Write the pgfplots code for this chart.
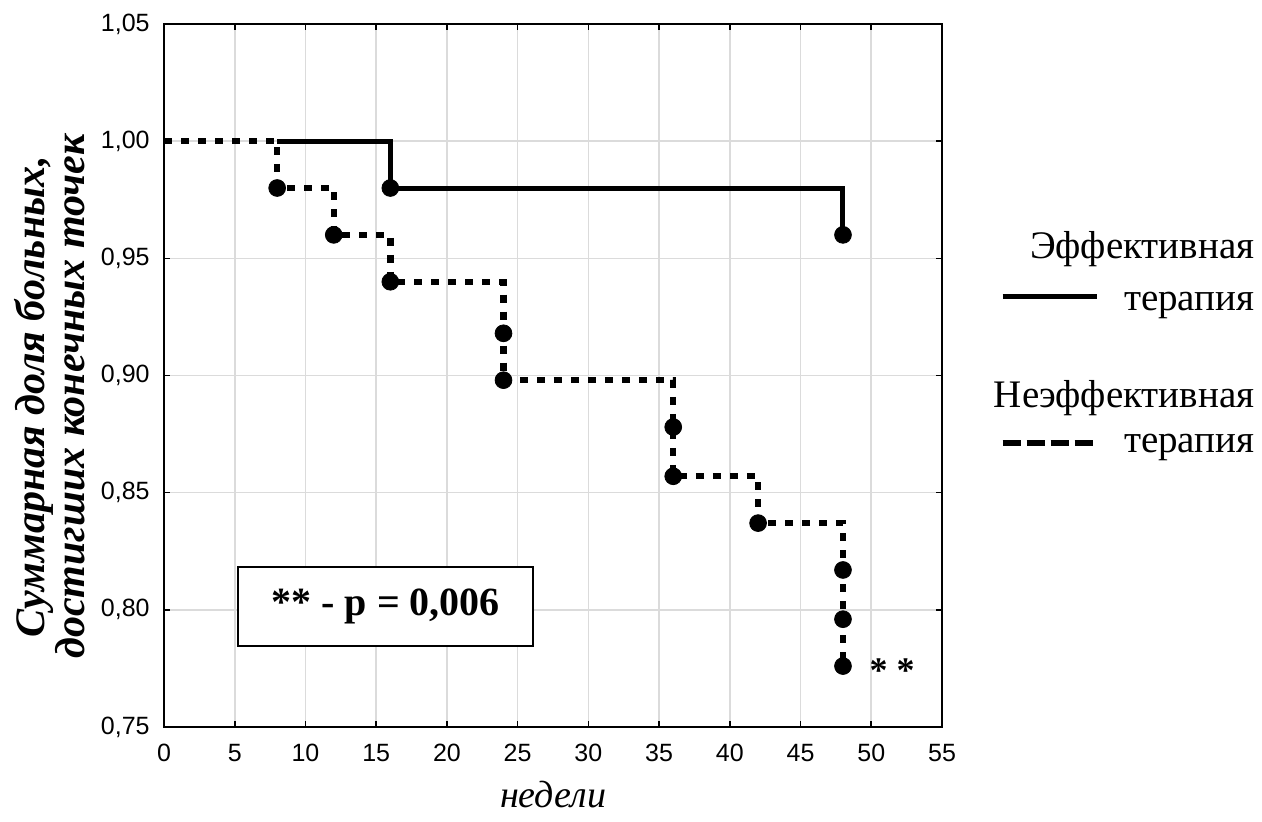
\documentclass[border=0pt]{standalone}
\usepackage{fontspec}
\setmainfont{Liberation Serif}
\newfontfamily\sansf{Liberation Sans}
\usepackage{pgfplots}
\pgfplotsset{compat=1.18}
\begin{document}
\begin{tikzpicture}
\begin{axis}[
  scale only axis, width=389pt, height=351.5pt,
  xmin=0, xmax=55, ymin=0.75, ymax=1.05,
  xtick={0,5,10,15,20,25,30,35,40,45,50,55},
  ytick={0.75,0.80,0.85,0.90,0.95,1.00,1.05},
  /pgf/number format/assume math mode=true,
  tick label style={font=\sansf\fontsize{12.5}{13}\selectfont},
  yticklabel style={/pgf/number format/fixed, /pgf/number format/fixed zerofill, /pgf/number format/precision=2, /pgf/number format/use comma, inner sep=0pt, xshift=-7pt},
  xticklabel style={inner sep=0pt, yshift=-8.5pt},
  grid=major,
  major grid style={gray!28, line width=0.8pt},
  axis line style={line width=1pt},
  tick align=inside, major tick length=3pt,
  tick style={black, line width=0.8pt},
  clip=false,
]
\addplot[const plot, line width=2.5pt, black] coordinates {(8,1.0) (16,0.98) (48,0.96)};
\addplot[const plot, line width=3.2pt, black, dash pattern=on 4pt off 4.5pt] coordinates {
  (0,1.0) (8,0.98) (12,0.96) (16,0.94) (24,0.898) (36,0.857) (42,0.837) (48,0.776)};
\addplot[only marks, mark=*, mark size=4.2pt, black] coordinates {(16,0.98) (48,0.96)};
\addplot[only marks, mark=*, mark size=4.2pt, black] coordinates {
  (8,0.98) (12,0.96) (16,0.94) (24,0.918) (24,0.898) (36,0.878) (36,0.857)
  (42,0.837) (48,0.817) (48,0.796) (48,0.776)};
% annotation box
\node[draw, line width=1pt, fill=white, minimum width=147.5pt, minimum height=39.5pt,
  font=\fontsize{20}{24}\selectfont\bfseries] at (rel axis cs:0.285,0.171) {** - p = 0,006};
\node[font=\fontsize{18}{20}\selectfont\bfseries] at (rel axis cs:0.936,0.08) {* *};
% legend
\node[anchor=base east, inner sep=0pt, font=\fontsize{19.5}{22}\selectfont] at (rel axis cs:1.402,0.667) {Эффективная};
\node[anchor=base east, inner sep=0pt, font=\fontsize{19.5}{22}\selectfont] at (rel axis cs:1.402,0.593) {терапия};
\node[anchor=base east, inner sep=0pt, font=\fontsize{19.5}{22}\selectfont] at (rel axis cs:1.402,0.454) {Неэффективная};
\node[anchor=base east, inner sep=0pt, font=\fontsize{19.5}{22}\selectfont] at (rel axis cs:1.402,0.391) {терапия};
\draw[line width=2.5pt] (rel axis cs:1.078,0.612) -- (rel axis cs:1.199,0.612);
\draw[line width=3pt, dash pattern=on 9pt off 3pt] (rel axis cs:1.078,0.404) -- (rel axis cs:1.199,0.404);
% axis labels
\node[anchor=base, inner sep=0pt, font=\fontsize{19}{20}\selectfont\itshape] at (rel axis cs:0.5,-0.115) {недели};
\node[rotate=90, align=center, inner sep=0pt, font=\fontsize{21}{19}\selectfont\bfseries\itshape] at (rel axis cs:-0.1465,0.47) {Суммарная доля больных,\\достигших конечных точек};
\coordinate (bl) at (rel axis cs:-0.2108,-0.1351);
\coordinate (tr) at (rel axis cs:1.4113,1.0341);
\end{axis}
\pgfresetboundingbox
\path[use as bounding box] (bl) rectangle (tr);
\end{tikzpicture}
\end{document}
